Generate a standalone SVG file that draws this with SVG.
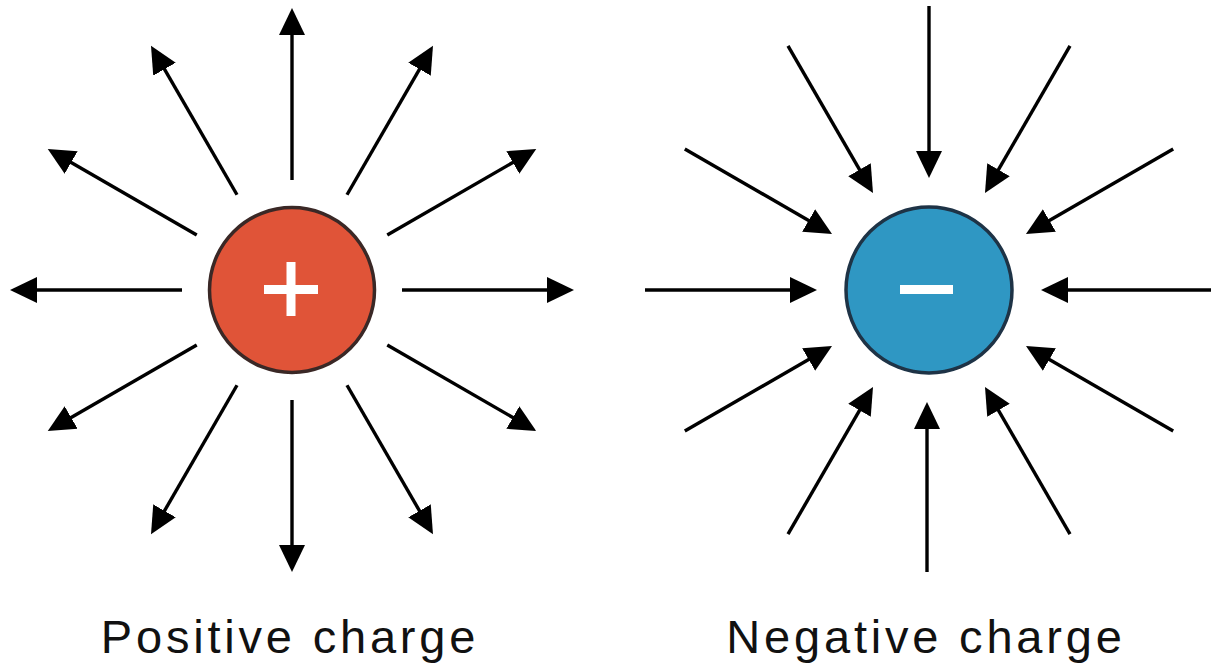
<svg xmlns="http://www.w3.org/2000/svg" width="1214" height="666" viewBox="0 0 1214 666">
  <style>
    .ln { stroke: #000; stroke-width: 3.4; fill: none; marker-end: url(#ah); }
    .lbl { font-family: "Liberation Sans", Arial, sans-serif; font-size: 47px; fill: #111; letter-spacing: 3.8px; text-anchor: middle; }
    .sign { fill: #fff; }
  </style>
  <defs>
    <marker id="ah" markerUnits="userSpaceOnUse" markerWidth="30" markerHeight="30" viewBox="0 -15 30 30" refX="7" refY="0" orient="auto">
      <path d="M0,-13 L27,0 L0,13 z" fill="#000"/>
    </marker>
  </defs>
  <rect width="1214" height="666" fill="#fff"/>
  <g id="connectors">
    <line class="ln" x1="402" y1="290" x2="554" y2="290"/>
    <line class="ln" x1="387.26" y1="235" x2="518.9" y2="159"/>
    <line class="ln" x1="347" y1="194.74" x2="423" y2="63.1"/>
    <line class="ln" x1="292" y1="180" x2="292" y2="28"/>
    <line class="ln" x1="237" y1="194.74" x2="161" y2="63.1"/>
    <line class="ln" x1="196.74" y1="235" x2="65.1" y2="159"/>
    <line class="ln" x1="182" y1="290" x2="30" y2="290"/>
    <line class="ln" x1="196.74" y1="345" x2="65.1" y2="421"/>
    <line class="ln" x1="237" y1="385.26" x2="161" y2="516.9"/>
    <line class="ln" x1="292" y1="400" x2="292" y2="552"/>
    <line class="ln" x1="347" y1="385.26" x2="423" y2="516.9"/>
    <line class="ln" x1="387.26" y1="345" x2="518.9" y2="421"/>

    <line class="ln" x1="1211" y1="290" x2="1061" y2="290"/>
    <line class="ln" x1="1173.2" y1="149" x2="1043.3" y2="224"/>
    <line class="ln" x1="1070" y1="45.8" x2="995" y2="175.7"/>
    <line class="ln" x1="929" y1="6" x2="929" y2="158"/>
    <line class="ln" x1="788" y1="45.8" x2="863" y2="175.7"/>
    <line class="ln" x1="684.8" y1="149" x2="814.7" y2="224"/>
    <line class="ln" x1="645" y1="290" x2="797" y2="290"/>
    <line class="ln" x1="684.8" y1="431" x2="814.7" y2="356"/>
    <line class="ln" x1="788" y1="534.2" x2="863" y2="404.3"/>
    <line class="ln" x1="927" y1="572" x2="927" y2="422"/>
    <line class="ln" x1="1070" y1="534.2" x2="995" y2="404.3"/>
    <line class="ln" x1="1173.2" y1="431" x2="1043.3" y2="356"/>
  </g>
  <g id="positive">
    <circle cx="292" cy="290" r="82.5" fill="#e05438" stroke="#3a2826" stroke-width="3.5"/>
    <rect class="sign" x="264" y="285" width="54" height="9"/>
    <rect class="sign" x="286.5" y="262" width="9" height="54"/>
  </g>
  <g id="negative">
    <circle cx="929" cy="290" r="83" fill="#2f97c3" stroke="#1e3346" stroke-width="3.5"/>
    <rect class="sign" x="900" y="285" width="53" height="9"/>
  </g>
  <g id="labels">
    <text class="lbl" x="290" y="653">Positive charge</text>
    <text class="lbl" x="926" y="653">Negative charge</text>
  </g>
</svg>
